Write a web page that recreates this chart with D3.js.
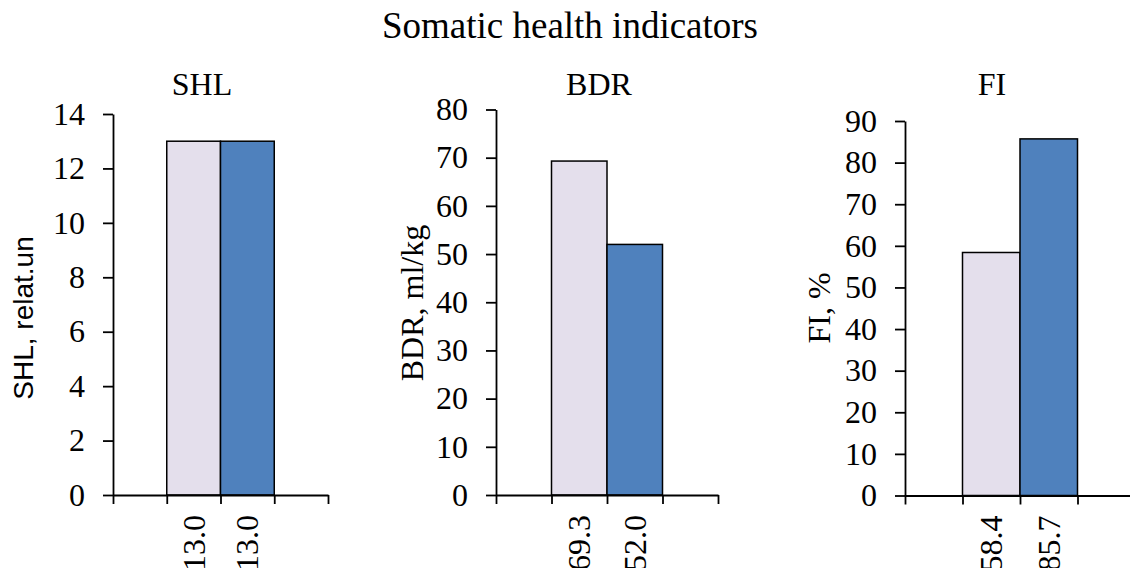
<!DOCTYPE html>
<html>
<head>
<meta charset="utf-8">
<style>
  body { margin: 0; background: #fff; }
  svg text { font-family: "Liberation Serif", "Times New Roman", serif; fill: #000; }
  .axis path, .axis line { stroke: #000; stroke-width: 1.8px; }
  .bar { stroke: #000; stroke-width: 1.5px; }
</style>
</head>
<body>
<div id="viz"></div>
<script src="https://d3js.org/d3.v7.min.js"></script>
<script>
  // data
  var panels = ["SHL", "BDR", "FI"];
  var axisTitles = ["SHL, relat.un", "BDR, ml/kg", "FI, %"];
  var group1 = [13.0, 69.3, 58.4];
  var group2 = [13.0, 52.0, 85.7];
  var yMax = [14, 80, 90];
  var yStep = [2, 10, 10];
  var colors = ["#E4DFEC", "#4F81BD"];

  // layout of each small chart (pixels)
  var boxes = [
    {x0: 113, x1: 328, top: 114, bottom: 495, titleX: 202, axTitleX: 23, axTitleY: 318, sans: true},
    {x0: 496, x1: 718, top: 109.5, bottom: 495, titleX: 599, axTitleX: 413, axTitleY: 303, sans: false},
    {x0: 905, x1: 1135, top: 121, bottom: 495.5, titleX: 992, axTitleX: 820, axTitleY: 308, sans: false}
  ];

  var svg = d3.select("#viz").append("svg")
    .attr("width", 1130)
    .attr("height", 568);

  svg.append("text")
    .attr("x", 570).attr("y", 38)
    .attr("text-anchor", "middle")
    .style("font-size", "37px")
    .text("Somatic health indicators");

  panels.forEach(function(name, i) {
    var b = boxes[i];
    var vals = [group1[i], group2[i]];
    var slots = ["a", "v0", "v1", "b"];

    var x = d3.scaleBand().domain(slots).range([b.x0, b.x1]).padding(0);
    var xt = d3.scaleLinear().domain([0, 4]).range([b.x0, b.x1]);
    var y = d3.scaleLinear().domain([0, yMax[i]]).range([b.bottom, b.top]);

    var g = svg.append("g");

    // bars
    g.selectAll("rect").data(vals).enter().append("rect")
      .attr("class", "bar")
      .attr("x", function(d, j) { return x("v" + j); })
      .attr("width", x.bandwidth())
      .attr("y", function(d) { return y(d); })
      .attr("height", function(d) { return b.bottom - y(d); })
      .style("fill", function(d, j) { return colors[j]; });

    // y axis
    var ya = g.append("g").attr("class", "axis")
      .attr("transform", "translate(" + b.x0 + ",0)")
      .call(d3.axisLeft(y)
        .tickValues(d3.range(0, yMax[i] + 0.001, yStep[i]))
        .tickSizeInner(10).tickSizeOuter(0).tickPadding(18));
    ya.selectAll("text")
      .style("font-size", "32px")
      .style("font-family", "Liberation Serif, serif");

    // x axis (tick marks between categories)
    g.append("g").attr("class", "axis")
      .attr("transform", "translate(0," + b.bottom + ")")
      .call(d3.axisBottom(xt).tickValues([0, 1, 2, 3, 4])
        .tickFormat("").tickSizeInner(9).tickSizeOuter(0));

    // value labels under bars, rotated
    g.selectAll(".vlab").data(vals).enter().append("text")
      .attr("class", "vlab")
      .attr("transform", function(d, j) {
        return "translate(" + (x("v" + j) + x.bandwidth() / 2 + 11) + "," + (b.bottom + 20) + ") rotate(-90)";
      })
      .attr("text-anchor", "end")
      .style("font-size", "32px")
      .text(function(d) { return d3.format(".1f")(d); });

    // panel title
    g.append("text")
      .attr("x", b.titleX).attr("y", 95)
      .attr("text-anchor", "middle")
      .style("font-size", "32px")
      .text(name);

    // axis title
    g.append("text")
      .attr("transform", "translate(" + (b.axTitleX + 10) + "," + b.axTitleY + ") rotate(-90)")
      .attr("text-anchor", "middle")
      .style("font-size", b.sans ? "28px" : "32px")
      .style("font-family", b.sans ? "Liberation Sans, Arial, sans-serif" : null)
      .text(axisTitles[i]);
  });
</script>
</body>
</html>
